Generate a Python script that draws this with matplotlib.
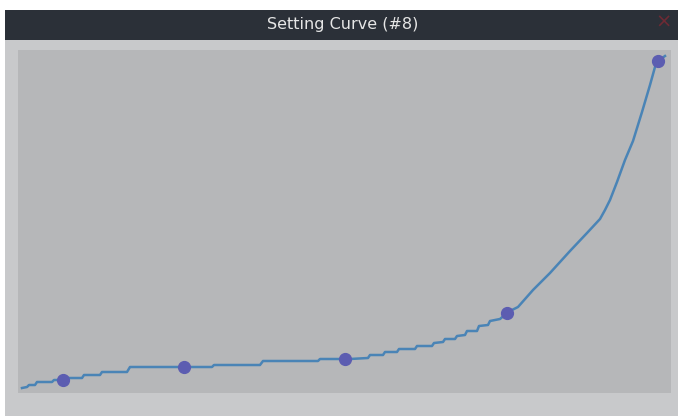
import matplotlib
matplotlib.use('Agg')
import matplotlib.pyplot as plt
from matplotlib.patches import Rectangle

# Curve (x = setting position, y = level above the bottom)
curve_x = [4, 9, 11, 17, 19, 34, 36, 48, 50, 64, 66, 82, 84, 109, 112, 194, 196, 242,
           245, 300, 302, 332, 350, 352, 365, 367, 379, 381, 397, 399, 414, 416, 425,
           427, 437, 439, 447, 449, 459, 461, 470, 472, 482, 489, 494, 500, 515, 532,
           552, 569, 582, 587, 592, 599, 607, 615, 624, 632, 637, 640, 647]
curve_y = [5, 6, 8, 8, 11, 11, 13, 13, 15, 15, 18, 18, 21, 21, 26, 26, 28, 28,
           32, 32, 34, 34, 35, 38, 38, 41, 41, 44, 44, 47, 47, 50, 51,
           54, 54, 57, 58, 62, 62, 67, 68, 72, 74, 80, 83, 86, 103, 120,
           142, 160, 174, 183, 193, 211, 233, 252, 281, 308, 326, 332, 337]

# Control points
key_x = [45, 166, 327, 489, 640]
key_y = [13, 26, 34, 80, 332]

title = 'Setting Curve (#8)'

W, H = 678, 416
fig = plt.figure(figsize=(W / 100, H / 100), dpi=100)
fig.patch.set_facecolor('white')


def px_rect(x0, y0, x1, y1, color):
    # rectangle given in image pixels (origin top-left)
    fig.add_artist(Rectangle((x0 / W, 1 - y1 / H), (x1 - x0) / W, (y1 - y0) / H,
                             transform=fig.transFigure, facecolor=color,
                             edgecolor='none', zorder=0))


# window frame
px_rect(5, 40, W, H, '#c8c9cb')
px_rect(5, 10, W, 40, '#2b3038')
fig.text(343 / W, 1 - 25 / H, title, color='#e6e6e6', fontsize=11.5,
         ha='center', va='center')
fig.text(664 / W, 1 - 22 / H, '×', color='#6e2a34', fontsize=14,
         ha='center', va='center')

ax = fig.add_axes([18 / W, (H - 393) / H, (671 - 18) / W, (393 - 50) / H])
ax.set_facecolor('#b6b7b9')
ax.plot(curve_x, curve_y, color='#4a84b6', linewidth=1.8, solid_joinstyle='round', zorder=2)
ax.plot(key_x, key_y, linestyle='none', marker='o', markersize=8.5,
        color='#5c5db1', zorder=3)
ax.set_xlim(0, 653)
ax.set_ylim(0, 343)
ax.set_xticks([])
ax.set_yticks([])
for s in ax.spines.values():
    s.set_visible(False)

fig.savefig('out.png', dpi=100, facecolor=fig.get_facecolor())
